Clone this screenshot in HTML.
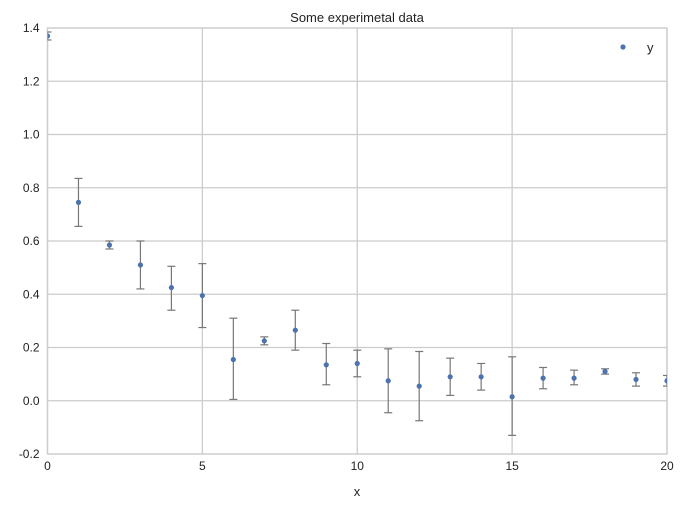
<!DOCTYPE html>
<html><head><meta charset="utf-8"><style>body{margin:0;background:#fff}svg{display:block}text{font-family:"Liberation Sans",Arial,sans-serif;fill:#222}</style></head>
<body>
<svg id="s" width="684" height="509" viewBox="0 0 684 509" xmlns="http://www.w3.org/2000/svg">
<defs><clipPath id="c"><rect x="47.5" y="28" width="619.5" height="426"/></clipPath></defs>
<rect width="684" height="509" fill="#fff"/>
<g id="grid"></g>
<rect x="47.5" y="28" width="619.5" height="426" fill="none" stroke="#ccc" stroke-width="1.3"/>
<g id="data" clip-path="url(#c)"></g>
<g id="lab" font-size="12"></g>
<text x="357" y="22" text-anchor="middle" font-size="13">Some experimetal data</text>
<text x="357" y="496" text-anchor="middle" font-size="13">x</text>
<circle cx="623" cy="47" r="2.6" fill="#4c72b0"/>
<text x="647" y="52" font-size="13">y</text>
</svg>
<script>
const L=47.5,R=667,T=28,B=454;
const X=v=>L+(R-L)*v/20, Y=v=>B-(B-T)*(v+0.2)/1.6;
let g='',lab='';
for(let v=0;v<=20;v+=5){const x=X(v);g+=`<line x1="${x}" x2="${x}" y1="${T}" y2="${B}" stroke="#ccc" stroke-width="1.3"/>`;lab+=`<text x="${x}" y="${B+16}" text-anchor="middle">${v}</text>`;}
for(let i=0;i<=8;i++){const v=-0.2+i*0.2,y=Y(v);g+=`<line x1="${L}" x2="${R}" y1="${y}" y2="${y}" stroke="#ccc" stroke-width="1.3"/>`;lab+=`<text x="${L-8}" y="${y+4}" text-anchor="end">${v.toFixed(1).replace('-0.0','0.0')}</text>`;}
const d=[[1.37,1.355,1.385],[.745,.655,.835],[.585,.57,.60],[.51,.42,.60],[.425,.34,.505],[.395,.275,.515],[.155,.005,.31],[.225,.21,.24],[.265,.19,.34],[.135,.06,.215],[.14,.09,.19],[.075,-.045,.195],[.055,-.075,.185],[.09,.02,.16],[.09,.04,.14],[.015,-.13,.165],[.085,.045,.125],[.085,.06,.115],[.11,.10,.12],[.08,.055,.105],[.075,.055,.095]];
let s='';
d.forEach((p,i)=>{const x=X(i),y1=Y(p[1]),y2=Y(p[2]);s+=`<line x1="${x}" x2="${x}" y1="${y1}" y2="${y2}" stroke="#777" stroke-width="1.2"/><line x1="${x-4}" x2="${x+4}" y1="${y1}" y2="${y1}" stroke="#777" stroke-width="1.2"/><line x1="${x-4}" x2="${x+4}" y1="${y2}" y2="${y2}" stroke="#777" stroke-width="1.2"/><circle cx="${x}" cy="${Y(p[0])}" r="2.6" fill="#4c72b0"/>`;});
document.getElementById('grid').innerHTML=g;
document.getElementById('lab').innerHTML=lab;
document.getElementById('data').innerHTML=s;
</script>
</body></html>
